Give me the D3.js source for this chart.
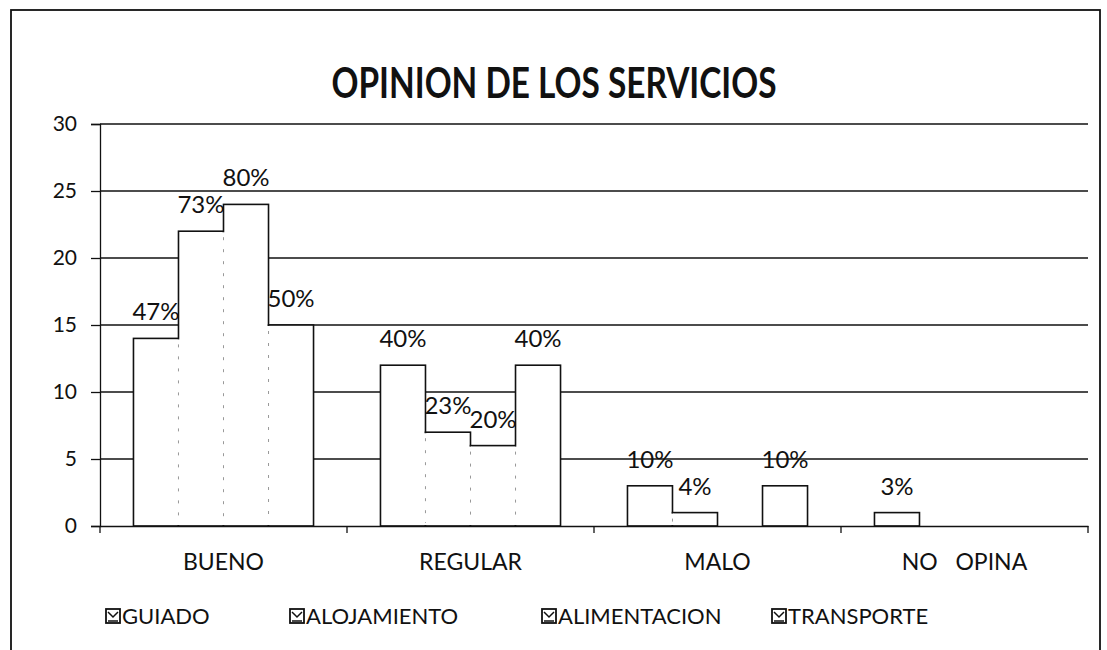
<!DOCTYPE html>
<html>
<head>
<meta charset="utf-8">
<script src="https://cdn.jsdelivr.net/npm/d3@7"></script>
<style>
  html, body { margin: 0; padding: 0; background: #fff; }
  svg { display: block; }
  text { font-family: Lato, "Noto Sans", sans-serif; fill: #111; }
</style>
</head>
<body>
<svg id="chart" width="1107" height="650"></svg>
<script>
const title = "OPINION DE LOS SERVICIOS";
const categories = ["BUENO", "REGULAR", "MALO", "NO   OPINA"];
const series = ["GUIADO", "ALOJAMIENTO", "ALIMENTACION", "TRANSPORTE"];
const guiado       = [14, 12, 3, 1];
const alojamiento  = [22, 7, 1, 0];
const alimentacion = [24, 6, 0, 0];
const transporte   = [15, 12, 3, 0];
const guiadoPct       = ["47%", "40%", "10%", "3%"];
const alojamientoPct  = ["73%", "23%", "4%", ""];
const alimentacionPct = ["80%", "20%", "", ""];
const transportePct   = ["50%", "40%", "10%", ""];
const yTicks = [0, 5, 10, 15, 20, 25, 30];

const values = [guiado, alojamiento, alimentacion, transporte];
const pcts = [guiadoPct, alojamientoPct, alimentacionPct, transportePct];

const svg = d3.select("#chart");

// outer frame
svg.append("rect").attr("x", 11).attr("y", 10).attr("width", 1089).attr("height", 660)
  .attr("fill", "none").attr("stroke", "#111").attr("stroke-width", 1.8);

svg.append("text").attr("x", 554).attr("y", 98).attr("text-anchor", "middle")
  .attr("font-size", 42).attr("font-weight", "bold")
  .attr("textLength", 445).attr("lengthAdjust", "spacingAndGlyphs").text(title);

const plotL = 100, plotR = 1088, plotT = 124, plotB = 526;
const y = d3.scaleLinear().domain([0, 30]).range([plotB, plotT]);
const x0 = d3.scaleBand().domain(categories).range([plotL, plotR]).padding(0);
const bw = x0.bandwidth();
const groupW = bw * 0.729;
const x1 = d3.scaleBand().domain(series).range([(bw - groupW) / 2, (bw + groupW) / 2]).padding(0);

// gridlines
svg.append("g").selectAll("line").data(yTicks.filter(d => d > 0)).join("line")
  .attr("x1", plotL).attr("x2", plotR).attr("y1", d => y(d)).attr("y2", d => y(d))
  .attr("stroke", "#111").attr("stroke-width", 1.3);

// bars
const rows = [];
categories.forEach((c, ci) => series.forEach((s, si) => {
  rows.push({ c, s, ci, si, v: values[si][ci], p: pcts[si][ci] });
}));

const g = svg.append("g");
g.selectAll("rect.bar").data(rows.filter(d => d.v > 0)).join("rect").attr("class", "bar")
  .attr("x", d => x0(d.c) + x1(d.s)).attr("width", x1.bandwidth())
  .attr("y", d => y(d.v)).attr("height", d => y(0) - y(d.v))
  .attr("fill", "#fff").attr("stroke", "#111").attr("stroke-width", 1.6);

// soften shared interior edges
const shared = [];
categories.forEach((c, ci) => {
  for (let si = 0; si < series.length - 1; si++) {
    const a = values[si][ci], b = values[si + 1][ci];
    if (a > 0 && b > 0) shared.push({ c, s: series[si + 1], v: Math.min(a, b) });
  }
});
g.selectAll("line.cover").data(shared).join("line").attr("class", "cover")
  .attr("x1", d => x0(d.c) + x1(d.s)).attr("x2", d => x0(d.c) + x1(d.s))
  .attr("y1", d => y(d.v) + 1).attr("y2", y(0) - 1)
  .attr("stroke", "#fff").attr("stroke-width", 3);
g.selectAll("line.dash").data(shared).join("line").attr("class", "dash")
  .attr("x1", d => x0(d.c) + x1(d.s)).attr("x2", d => x0(d.c) + x1(d.s))
  .attr("y1", d => y(d.v) + 6).attr("y2", y(0) - 3)
  .attr("stroke", "#999").attr("stroke-width", 1).attr("stroke-dasharray", "3,9");

// value labels
g.selectAll("text.lbl").data(rows.filter(d => d.p !== "")).join("text").attr("class", "lbl")
  .attr("x", d => x0(d.c) + x1(d.s) + x1.bandwidth() / 2)
  .attr("y", d => y(d.v) - 18)
  .attr("text-anchor", "middle").attr("font-size", 24).text(d => d.p);

// y axis
const yAxis = svg.append("g").attr("transform", `translate(${plotL},0)`)
  .call(d3.axisLeft(y).tickValues(yTicks).tickSize(9).tickPadding(14));
yAxis.select(".domain").attr("stroke", "#111").attr("stroke-width", 1.3);
yAxis.selectAll(".tick line").attr("stroke", "#111").attr("stroke-width", 1.3);
yAxis.selectAll(".tick text").attr("font-size", 21).attr("font-family", "Lato, sans-serif").attr("fill", "#111");

// x axis
const xAxis = svg.append("g").attr("transform", `translate(0,${plotB})`)
  .call(d3.axisBottom(x0).tickSize(0).tickPadding(0).tickFormat(() => ""));
xAxis.select(".domain").attr("stroke", "#111").attr("stroke-width", 1.3);
const bounds = categories.map(c => x0(c)).concat([plotR]);
xAxis.selectAll("line.sep").data(bounds).join("line").attr("class", "sep")
  .attr("x1", d => d).attr("x2", d => d).attr("y1", 0).attr("y2", 7)
  .attr("stroke", "#111").attr("stroke-width", 1.3);
xAxis.selectAll("text.cat").data(categories).join("text").attr("class", "cat")
  .attr("x", d => x0(d) + bw / 2).attr("y", 44).attr("text-anchor", "middle")
  .attr("font-size", 23).attr("xml:space", "preserve").style("white-space", "pre").text(d => d);

// legend
const legX = [106, 290, 542, 772];
const legY = 616;
const leg = svg.append("g").selectAll("g").data(series).join("g")
  .attr("transform", (d, i) => `translate(${legX[i]},${legY})`);
leg.append("rect").attr("x", 0).attr("y", -7).attr("width", 14).attr("height", 14)
  .attr("fill", "#fff").attr("stroke", "#111").attr("stroke-width", 1.8);
leg.append("path").attr("d", "M2,-4 L7,1 L12,-4 M2,5 L12,5")
  .attr("fill", "none").attr("stroke", "#111").attr("stroke-width", 1.5);
leg.append("text").attr("x", 16).attr("y", 8).attr("font-size", 22).text(d => d);
</script>
</body>
</html>
